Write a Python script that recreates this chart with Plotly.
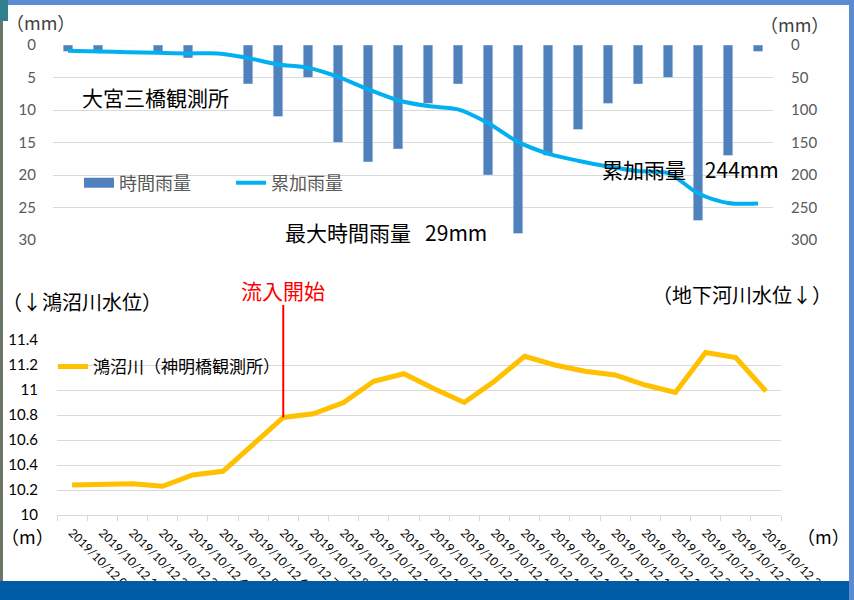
import plotly.graph_objects as go

# ---------------- data ----------------
hours = [f"2019/10/12 {h}:00" for h in range(24)]
hourly_rain = [1, 1, 0, 1, 2, 0, 6, 11, 5, 15, 18, 16, 9, 6, 20, 29, 17, 13, 9, 6, 5, 27, 17, 1]
cumulative_rain = [9, 10, 11, 12, 13, 13, 20, 30, 35, 49, 68, 85, 94, 99, 120, 149, 167, 178, 187, 194, 197, 228, 243, 244]
water_level = [10.24, 10.25, 10.25, 10.23, 10.32, 10.35, 10.57, 10.78, 10.81, 10.90, 11.07, 11.13,
               11.01, 10.90, 11.07, 11.27, 11.20, 11.15, 11.12, 11.04, 10.98, 11.30, 11.26, 10.99]
inflow_start = "2019/10/12 7:00"
inflow_level = 10.78

W, H = 854, 600
def px(x, y):
    return x / W, 1 - y / H

CJK = "Noto Sans CJK JP"
NUM = "Lato, Noto Sans CJK JP"
BAR = "#4F81BD"
CUM = "#00B0F0"
LVL = "#FFC000"
GRID = "#D9D9D9"
SP = "\u00a0\u00a0\u00a0"

fig = go.Figure()

fig.add_trace(go.Bar(x=hours, y=hourly_rain, name="時間雨量", marker_color=BAR,
                     width=0.32, xaxis="x", yaxis="y", showlegend=False))
# legend entry drawn as a wide swatch like the original
fig.add_trace(go.Scatter(x=[None], y=[None], name="時間雨量", mode="lines",
                         line=dict(color=BAR, width=10), xaxis="x", yaxis="y", legend="legend"))
fig.add_trace(go.Scatter(x=hours, y=cumulative_rain, name="累加雨量", mode="lines",
                         line=dict(color=CUM, width=4, shape="spline", smoothing=0.8),
                         xaxis="x", yaxis="y2", legend="legend"))
fig.add_trace(go.Scatter(x=hours, y=water_level, name="鴻沼川（神明橋観測所）", mode="lines",
                         line=dict(color=LVL, width=5), xaxis="x2", yaxis="y3", legend="legend2"))

tx0, _ = px(53, 0); tx1, _ = px(773, 0)
_, ty0 = px(0, 240); _, ty1 = px(0, 45)
bx0, _ = px(57, 0); bx1, _ = px(781, 0)
_, by0 = px(0, 515); _, by1 = px(0, 340)

annos = []
def txt(t, x, y, size=17, color="#000000", xanchor="center"):
    ax, ay = px(x, y)
    annos.append(dict(text=t, x=ax, y=ay, xref="paper", yref="paper", showarrow=False,
                      xanchor=xanchor, yanchor="middle",
                      font=dict(family=CJK, size=size, color=color)))

txt("（mm）", 40, 22, 18, "#404040")
txt("（mm）", 794, 24, 18, "#404040")
txt("大宮三橋観測所", 80, 97, 21, xanchor="left")
txt("最大時間雨量" + SP + "29mm", 283, 232, 21, xanchor="left")
txt("累加雨量" + SP + "\u00a0244mm", 600, 169, 21, xanchor="left")
txt("（↓鴻沼川水位）", 0, 301, 20, xanchor="left")
txt("（地下河川水位↓）", 650, 294, 20, xanchor="left")
txt("（m）", 27, 536, 18)
txt("（m）", 823, 536, 18)

annos.append(dict(text="流入開始", x=inflow_start, y=inflow_level, xref="x2", yref="y3",
                  showarrow=True, arrowhead=0, arrowwidth=2, arrowcolor="#FF0000",
                  ax=0, ay=-128, standoff=0, borderpad=0,
                  font=dict(family=CJK, size=21, color="#FF0000")))

shapes = [
    dict(type="rect", xref="paper", yref="paper", x0=0, x1=1, y0=px(0, 5)[1], y1=1,
         fillcolor="#5B8BD0", line_width=0, layer="above"),
    dict(type="rect", xref="paper", yref="paper", x0=px(849, 0)[0], x1=1, y0=0, y1=1,
         fillcolor="#5B8BD0", line_width=0, layer="above"),
    dict(type="rect", xref="paper", yref="paper", x0=0, x1=px(849, 0)[0], y0=0, y1=px(0, 581)[1],
         fillcolor="#005CA5", line_width=0, layer="above"),
    dict(type="rect", xref="paper", yref="paper", x0=0, x1=px(8, 0)[0], y0=px(0, 21)[1], y1=1,
         fillcolor="#2F7F8C", line_width=0, layer="above"),
    dict(type="rect", xref="paper", yref="paper", x0=0, x1=px(3, 0)[0], y0=px(0, 581)[1], y1=px(0, 21)[1],
         fillcolor="#6B7565", line_width=0, layer="above"),
]

fig.update_layout(
    width=W, height=H,
    margin=dict(l=0, r=0, t=0, b=0, pad=0, autoexpand=False),
    paper_bgcolor="white", plot_bgcolor="white",
    showlegend=True,
    xaxis=dict(domain=[tx0, tx1], anchor="y", type="category", range=[-0.5, 23.5], automargin=False,
               showticklabels=False, showgrid=False, showline=False, ticks="", zeroline=False),
    yaxis=dict(domain=[ty0, ty1], anchor="x", range=[30, 0], tick0=0, dtick=5, automargin=False,
               showgrid=True, gridcolor=GRID, gridwidth=1, zeroline=False, showline=False,
               tickfont=dict(family=NUM, size=15, color="#595959"), ticklabelstandoff=16),
    yaxis2=dict(overlaying="y", anchor="x", side="right", range=[300, 0], tick0=0, dtick=50,
                automargin=False, showgrid=False, zeroline=False, showline=False,
                tickfont=dict(family=NUM, size=15, color="#595959"), ticklabelstandoff=17),
    xaxis2=dict(domain=[bx0, bx1], anchor="y3", type="category", range=[-0.5, 23.5], automargin=False,
                tickangle=45, tickson="boundaries", ticks="outside", ticklen=5, tickcolor=GRID,
                showline=True, linecolor=GRID, linewidth=1, showgrid=False, ticklabelstandoff=5,
                tickfont=dict(family=NUM, size=12, color="#000000")),
    yaxis3=dict(domain=[by0, by1], anchor="x2", range=[10, 11.4], tick0=10, dtick=0.2, automargin=False,
                showgrid=True, gridcolor=GRID, gridwidth=1, zeroline=False, showline=False,
                tickfont=dict(family=NUM, size=15, color="#000000"), ticklabelstandoff=18),
    legend=dict(orientation="h", x=px(79, 0)[0], y=px(0, 183)[1], xanchor="left", yanchor="middle",
                bgcolor="rgba(0,0,0,0)", font=dict(family=CJK, size=18, color="#595959"),
                entrywidth=107, tracegroupgap=0),
    legend2=dict(orientation="h", x=px(53, 0)[0], y=px(0, 367)[1], xanchor="left", yanchor="middle",
                 bgcolor="rgba(0,0,0,0)", font=dict(family=CJK, size=17, color="#000000")),
    annotations=annos,
    shapes=shapes,
)

fig.write_html("out.html", config={"displayModeBar": False},
               post_script="document.body.style.margin='0';document.body.style.overflow='hidden';"
                           "document.documentElement.style.overflow='hidden';")
